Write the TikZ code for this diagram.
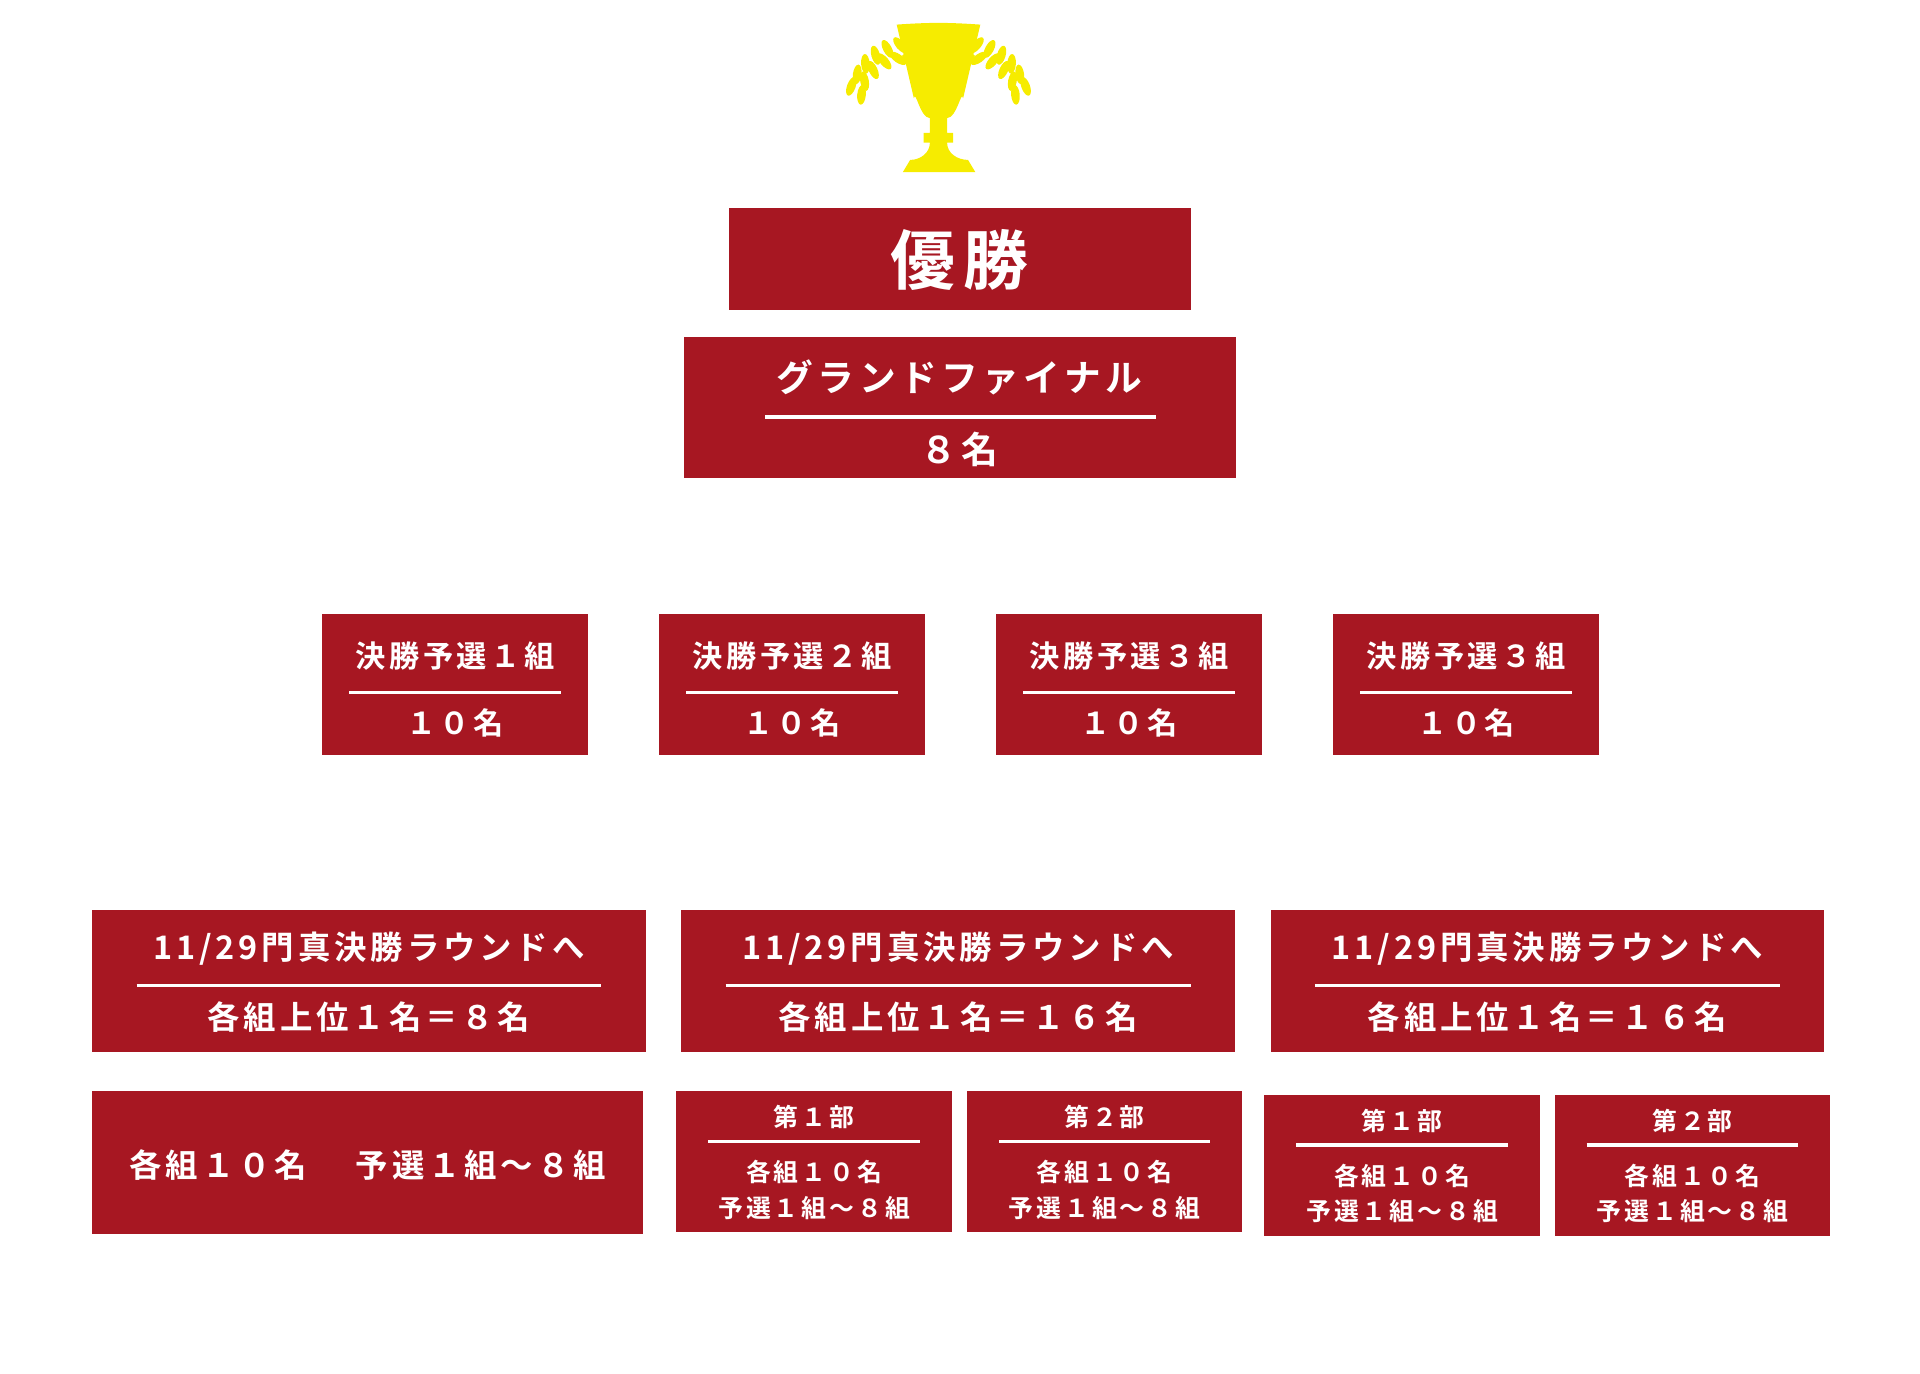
\documentclass[tikz,border=0pt]{standalone}
\usepackage{fontspec}
\newfontfamily\jp[LetterSpace=12,BoldFont={* Bold}]{Noto Sans CJK JP}
\usetikzlibrary{positioning,calc}
\definecolor{boxred}{HTML}{A71722}
\definecolor{cupyellow}{HTML}{F6EC00}
\tikzset{
  box/.style={fill=boxred,draw=none},
  lbl/.style={text=white,font=\jp\bfseries,inner sep=0pt},
  rule/.style={white,line width=1.6pt},
  leaf/.style={fill=cupyellow,draw=none}
}
\begin{document}
\begin{tikzpicture}[x=0.02cm,y=-0.02cm]
\useasboundingbox (0,0) rectangle (1561,1117);

% trophy
\fill[cupyellow] (729,20) to[bend left=4] (797,20) -- (783,80) to[out=100,in=0] (770,96)
  -- (770,108) -- (775,108) -- (775,116) -- (770,116) to[out=-90,in=180] (787,130)
  -- (793,140) -- (734,140) -- (740,130) to[out=0,in=-90] (756,116) -- (751,116)
  -- (751,108) -- (756,108) -- (756,96) to[out=180,in=80] (743,80) -- cycle;
\foreach \a/\r in {200/52,212/52,224/52,236/52,248/52,260/52}{
  \fill[leaf] ($(741,88)+(\a:\r)$) ellipse[x radius=8,y radius=3.5,rotate=\a+50];
  \fill[leaf] ($(785,88)+(-\a+180:\r)$) ellipse[x radius=8,y radius=3.5,rotate=-\a+130];
}
\foreach \a/\r in {195/42,210/44,225/44,240/44,255/42,270/40}{
  \fill[leaf] ($(741,88)+(\a:\r)$) ellipse[x radius=3.5,y radius=8,rotate=\a-20];
  \fill[leaf] ($(785,88)+(-\a+180:\r)$) ellipse[x radius=3.5,y radius=8,rotate=-\a+200];
}

% champion and grand final
\fill[box] (593,169) rectangle (968,252);
\node[lbl,font=\jp\bfseries\fontsize{30}{30}\selectfont] (win) at (780,211) {優勝};
\fill[box] (556,274) rectangle (1005,389);
\node[lbl,font=\jp\bfseries\fontsize{17}{17}\selectfont] (gf) at (780,307) {グランドファイナル};
\draw[rule] (622,339) -- (940,339);
\node[lbl,font=\jp\bfseries\fontsize{17}{17}\selectfont] (gfn) at (780,365) {８名};

% qualifiers
\foreach \x/\n in {262/１,536/２,810/３,1084/３}{
  \fill[box] (\x,499) rectangle ++(216,115);
  \node[lbl,font=\jp\bfseries\fontsize{14}{14}\selectfont] at (\x+108,533) {決勝予選\n 組};
  \draw[rule] (\x+22,563) -- (\x+194,563);
  \node[lbl,font=\jp\bfseries\fontsize{14}{14}\selectfont] at (\x+108,588) {１０名};
}

% rounds
\foreach \x/\m in {75/８,554/１６,1033/１６}{
  \fill[box] (\x,740) rectangle ++(450,115);
  \node[lbl,font=\jp\bfseries\fontsize{15}{15}\selectfont] at (\x+225,771) {11/29門真決勝ラウンドへ};
  \draw[rule] (\x+36,801) -- (\x+414,801);
  \node[lbl,font=\jp\bfseries\fontsize{15}{15}\selectfont] at (\x+225,827) {各組上位１名＝\m 名};
}

% groups
\fill[box] (75,887) rectangle (523,1003);
\node[lbl,font=\jp\bfseries\fontsize{15}{15}\selectfont] (grp) at (299,947) {各組１０名\hspace{1.5em}予選１組～８組};
\foreach \x/\y/\b in {550/887/１,786/887/２,1028/890/１,1264/890/２}{
  \fill[box] (\x,\y) rectangle ++(224,115);
  \node[lbl,font=\jp\bfseries\fontsize{11.5}{11.5}\selectfont] at (\x+112,\y+21) {第\b 部};
  \draw[rule] (\x+26,\y+41) -- (\x+198,\y+41);
  \node[lbl,font=\jp\bfseries\fontsize{11.5}{11.5}\selectfont] at (\x+112,\y+66) {各組１０名};
  \node[lbl,font=\jp\bfseries\fontsize{11.5}{11.5}\selectfont] at (\x+112,\y+95) {予選１組～８組};
}
\end{tikzpicture}
\end{document}
